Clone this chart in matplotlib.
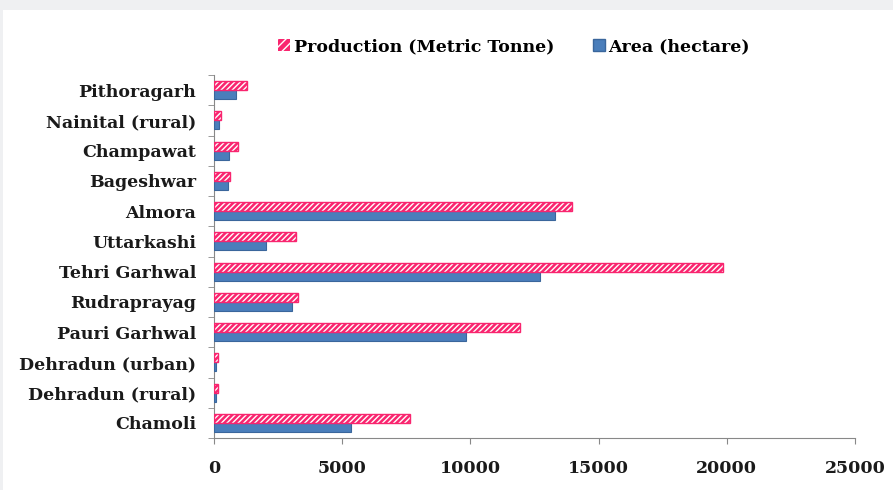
import matplotlib
matplotlib.use("Agg")
import matplotlib.pyplot as plt
from matplotlib.patches import Rectangle, Patch
import numpy as np

districts = ["Chamoli", "Dehradun (rural)", "Dehradun (urban)", "Pauri Garhwal",
             "Rudraprayag", "Tehri Garhwal", "Uttarkashi", "Almora", "Bageshwar",
             "Champawat", "Nainital (rural)", "Pithoragarh"]
production = [7640, 150, 150, 11930, 3280, 19850, 3200, 13960, 620, 940, 270, 1290]
area = [5340, 60, 70, 9830, 3040, 12700, 2030, 13300, 550, 580, 200, 860]
xticks = [0, 5000, 10000, 15000, 20000, 25000]

FONT = "DejaVu Serif"

fig = plt.figure(figsize=(8.93, 4.9), dpi=100)
fig.patch.set_facecolor("#eff0f2")
fig.add_artist(Rectangle((3/893, 0), 1, 1 - 10/490, transform=fig.transFigure,
                         facecolor="white", edgecolor="none", zorder=0))
ax = fig.add_axes([214/893, 1 - 438/490, (855-214)/893, (438-75)/490])
ax.set_facecolor("none")

y = np.arange(len(districts))
h = 0.3
pink = "#f9256f"
blue = "#4a7ebb"
ax.barh(y + h/2, production, height=h, facecolor=pink, edgecolor="white",
        hatch="//////", linewidth=0, zorder=3)
ax.barh(y + h/2, production, height=h, facecolor="none", edgecolor=pink,
        linewidth=1.0, zorder=4)
ax.barh(y - h/2, area, height=h, facecolor=blue, edgecolor="#3a669c",
        linewidth=0.8, zorder=3)

ax.set_xlim(0, 25000)
ax.set_ylim(-0.5, len(districts) - 0.5)
ax.set_xticks(xticks)
ax.set_xticklabels([str(v) for v in xticks])
ax.set_yticks(y)
ax.set_yticklabels(districts)
ax.set_yticks(np.arange(len(districts) + 1) - 0.5, minor=True)
ax.tick_params(axis="y", which="major", length=0, pad=13)
ax.tick_params(axis="y", which="minor", length=4, color="#888888")
ax.tick_params(axis="x", length=4, color="#888888", pad=12)
for lab in ax.get_yticklabels():
    lab.set_fontfamily(FONT)
    lab.set_fontweight("bold")
    lab.set_fontsize(12.5)
    lab.set_color("#1a1a1a")
for lab in ax.get_xticklabels():
    lab.set_fontfamily(FONT)
    lab.set_fontweight("bold")
    lab.set_fontsize(12.5)
    lab.set_color("#1a1a1a")
for s in ["top", "right"]:
    ax.spines[s].set_visible(False)
for s in ["left", "bottom"]:
    ax.spines[s].set_color("#888888")

handles = [Patch(facecolor=pink, edgecolor="white", hatch="////", linewidth=0),
           Patch(facecolor=blue, edgecolor="#3a669c")]
fig.legend(handles, ["Production (Metric Tonne)", "Area (hectare)"],
           loc="center", bbox_to_anchor=(514/893, 1 - 47/490), ncol=2,
           frameon=False, handlelength=0.7, handleheight=0.7, handletextpad=0.2,
           columnspacing=2.2,
           prop={"family": FONT, "weight": "bold", "size": 12.5})

fig.savefig("out.png", dpi=100, facecolor=fig.get_facecolor())
